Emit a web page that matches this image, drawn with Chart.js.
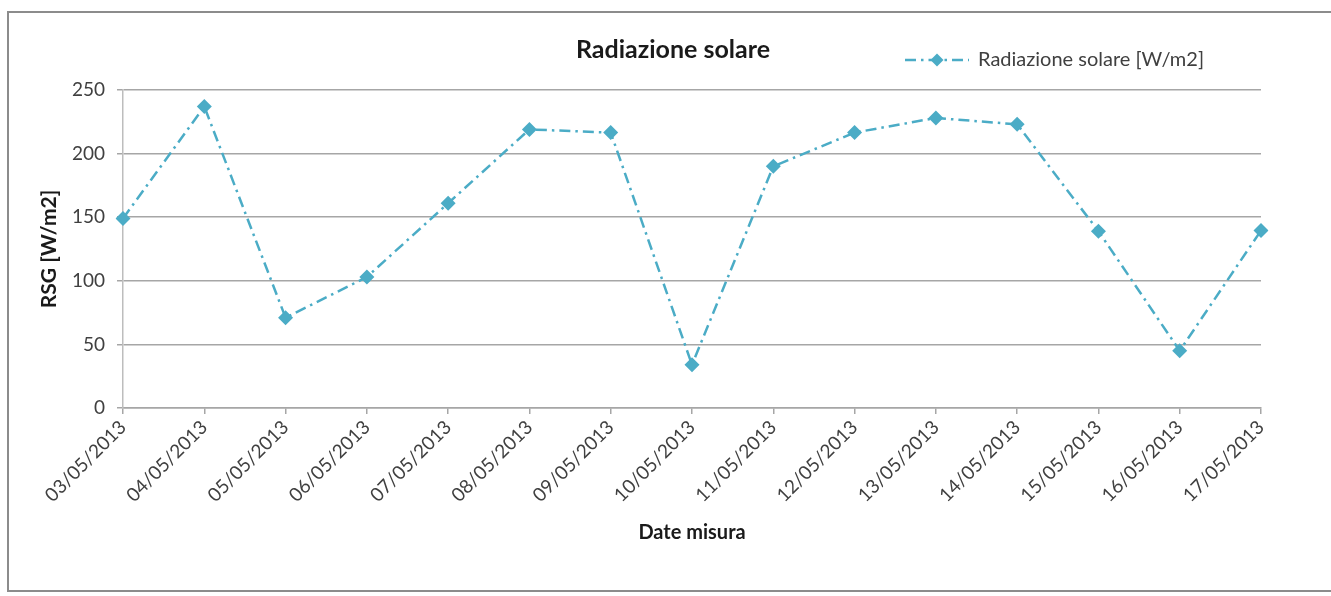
<!DOCTYPE html>
<html>
<head>
<meta charset="utf-8">
<script src="https://cdn.jsdelivr.net/npm/chart.js@4/dist/chart.umd.min.js"></script>
<style>
  html, body { margin: 0; padding: 0; background: #fff; overflow: hidden; }
  #wrap { position: relative; width: 1331px; height: 596px; }
  #frame { position: absolute; left: 7px; top: 11px; width: 1360px; height: 581px;
           border: 2px solid #8c8c8c; box-sizing: border-box; pointer-events: none; }
  canvas { position: absolute; left: 0; top: 0; }
</style>
</head>
<body>
<div id="wrap">
  <canvas id="c" width="1331" height="596"></canvas>
  <div id="frame"></div>
</div>
<script>
const chartTitle = 'Radiazione solare';
const seriesName = 'Radiazione solare [W/m2]';
const yAxisTitle = 'RSG [W/m2]';
const xAxisTitle = 'Date misura';
const dates = ['03/05/2013','04/05/2013','05/05/2013','06/05/2013','07/05/2013','08/05/2013','09/05/2013',
               '10/05/2013','11/05/2013','12/05/2013','13/05/2013','14/05/2013','15/05/2013','16/05/2013','17/05/2013'];
const radiation = [149, 237, 71, 103, 161, 219, 216.5, 34, 190, 216.5, 228, 223, 139, 45, 139.5];

const FONT = 'Lato, "Open Sans", sans-serif';
const LINE_COLOR = '#4bacc6';
const DASH = [11, 5, 2.5, 5];

const overlay = {
  id: 'overlay',
  afterDraw(chart) {
    const ctx = chart.ctx;
    ctx.save();
    // title
    ctx.fillStyle = '#1a1a1a';
    ctx.font = 'bold 25px ' + FONT;
    ctx.textAlign = 'center';
    ctx.textBaseline = 'middle';
    ctx.fillText(chartTitle, 673, 50);
    // legend
    const ly = 60;
    ctx.strokeStyle = LINE_COLOR;
    ctx.lineWidth = 2.5;
    ctx.setLineDash(DASH);
    ctx.beginPath();
    ctx.moveTo(905, ly);
    ctx.lineTo(969, ly);
    ctx.stroke();
    ctx.setLineDash([]);
    ctx.fillStyle = LINE_COLOR;
    ctx.beginPath();
    ctx.moveTo(937, ly - 6.5);
    ctx.lineTo(943.5, ly);
    ctx.lineTo(937, ly + 6.5);
    ctx.lineTo(930.5, ly);
    ctx.closePath();
    ctx.fill();
    ctx.fillStyle = '#404040';
    ctx.font = '20px ' + FONT;
    ctx.textAlign = 'left';
    ctx.fillText(seriesName, 978, ly);
    ctx.restore();
  }
};

new Chart(document.getElementById('c'), {
  type: 'line',
  data: {
    labels: dates,
    datasets: [{
      label: seriesName,
      data: radiation,
      borderColor: LINE_COLOR,
      backgroundColor: LINE_COLOR,
      borderWidth: 2.5,
      borderDash: DASH,
      pointStyle: 'rectRot',
      pointRadius: 7.5,
      pointBorderWidth: 0,
      pointBackgroundColor: LINE_COLOR,
      tension: 0,
      fill: false
    }]
  },
  options: {
    responsive: false,
    animation: false,
    layout: { padding: { left: 10, right: 70, top: 90, bottom: 0 } },
    plugins: { legend: { display: false }, title: { display: false }, tooltip: { enabled: false } },
    scales: {
      x: {
        offset: false,
        grid: { drawOnChartArea: false, drawTicks: true, tickLength: 6, color: '#a6a6a6', lineWidth: 1.5 },
        border: { color: '#a6a6a6', width: 1.5 },
        ticks: { minRotation: 45, maxRotation: 45, autoSkip: false, color: '#404040',
                 font: { family: FONT, size: 19 }, padding: 2 },
        title: { display: true, text: xAxisTitle, color: '#1a1a1a',
                 font: { family: FONT, size: 20, weight: 'bold' }, padding: { top: 0, bottom: 51 } },
        afterFit(scale) { scale.height = 596 - 408; }
      },
      y: {
        min: 0, max: 250,
        grid: { color: '#a6a6a6', lineWidth: 1.5, drawTicks: true, tickLength: 6 },
        border: { color: '#bdbdbd', width: 1.5 },
        ticks: { stepSize: 50, color: '#404040', font: { family: FONT, size: 19 }, padding: 12 },
        title: { display: true, text: yAxisTitle, color: '#1a1a1a',
                 font: { family: FONT, size: 21, weight: 'bold' }, padding: { top: 27, bottom: 0 } },
        afterFit(scale) { scale.width = 123 - 10; }
      }
    }
  },
  plugins: [overlay]
});
</script>
</body>
</html>
